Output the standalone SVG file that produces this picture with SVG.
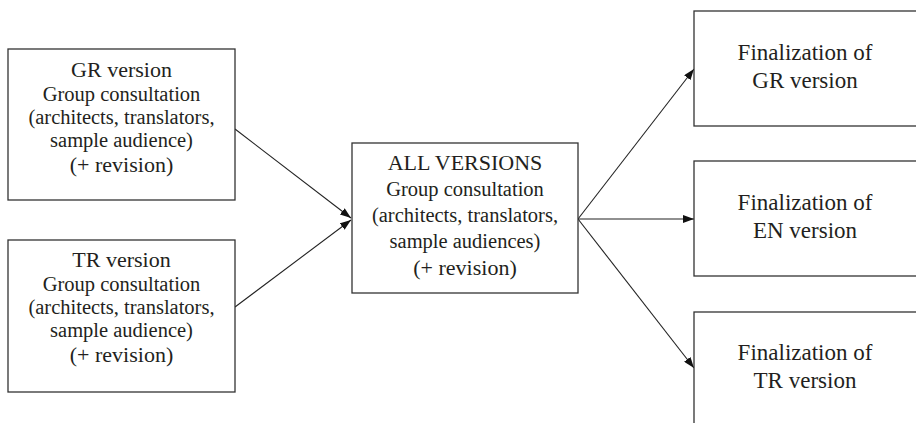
<svg xmlns="http://www.w3.org/2000/svg" width="916" height="423" viewBox="0 0 916 423">
<style>
.box{fill:#fff;stroke:#333;stroke-width:1.3}
text{fill:#231f20;text-anchor:middle;font-family:'Liberation Serif','Tinos','Times New Roman','Times','DejaVu Serif','Noto Serif',serif}
.t{font-size:22px}
.b{font-size:20.5px}
.r{font-size:23px}
.edge{stroke:#222;stroke-width:1.1;fill:none;marker-end:url(#ah)}
</style>
<defs>
<marker id="ah" markerUnits="userSpaceOnUse" markerWidth="11" markerHeight="8" refX="11" refY="4" orient="auto">
<path d="M0,0 L11,4 L0,8 z" fill="#111"/>
</marker>
</defs>
<rect width="916" height="423" fill="#fff"/>
<g id="connectors">
<line class="edge" x1="235" y1="129" x2="351" y2="218"/>
<line class="edge" x1="235" y1="307" x2="351" y2="220"/>
<line class="edge" x1="578" y1="219" x2="694" y2="69"/>
<line class="edge" x1="578" y1="219" x2="694" y2="219"/>
<line class="edge" x1="578" y1="219" x2="694" y2="368"/>
</g>
<g id="gr-version">
<rect class="box" x="8" y="49" width="227" height="151"/>
<text class="t" x="121.5" y="77">GR version</text>
<text class="b" x="121.5" y="101">Group consultation</text>
<text class="b" x="121.5" y="124">(architects, translators,</text>
<text class="b" x="121.5" y="147">sample audience)</text>
<text class="t" x="121.5" y="172">(+ revision)</text>
</g>
<g id="tr-version">
<rect class="box" x="8" y="240" width="227" height="152"/>
<text class="t" x="121.5" y="267">TR version</text>
<text class="b" x="121.5" y="291">Group consultation</text>
<text class="b" x="121.5" y="314">(architects, translators,</text>
<text class="b" x="121.5" y="337">sample audience)</text>
<text class="t" x="121.5" y="362">(+ revision)</text>
</g>
<g id="all-versions">
<rect class="box" x="352" y="143" width="226" height="150"/>
<text class="t" x="465" y="170">ALL VERSIONS</text>
<text class="b" x="465" y="196">Group consultation</text>
<text class="b" x="465" y="222">(architects, translators,</text>
<text class="b" x="465" y="248">sample audiences)</text>
<text class="t" x="465" y="275">(+ revision)</text>
</g>
<g id="final-gr">
<rect class="box" x="694" y="11" width="240" height="115"/>
<text class="r" x="805" y="60">Finalization of</text>
<text class="r" x="805" y="88">GR version</text>
</g>
<g id="final-en">
<rect class="box" x="694" y="161" width="240" height="115"/>
<text class="r" x="805" y="210">Finalization of</text>
<text class="r" x="805" y="238">EN version</text>
</g>
<g id="final-tr">
<rect class="box" x="694" y="312" width="240" height="130"/>
<text class="r" x="805" y="360">Finalization of</text>
<text class="r" x="805" y="388">TR version</text>
</g>
</svg>
